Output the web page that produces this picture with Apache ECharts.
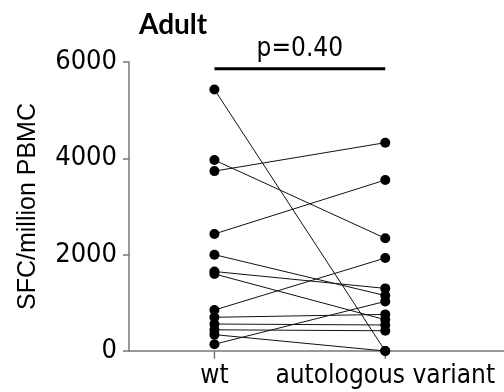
<!DOCTYPE html>
<html><head><meta charset="utf-8">
<script src="https://cdn.jsdelivr.net/npm/echarts@6/dist/echarts.min.js"></script>
<style>html,body{margin:0;padding:0;background:#fff}#c{width:504px;height:392px}</style>
</head><body><div id="c"></div>
<script>
var categories = ['wt', 'autologous variant'];
var wt      = [5430, 3965, 3735, 2430, 2000, 1650, 1600, 850, 700, 560, 440, 340, 140];
var variant = [0,    2340, 4325, 3550, 1150, 1300,  650, 1930, 760, 540, 420,   0, 1030];
var yTicks = [0, 2000, 4000, 6000];
var titleText = 'Adult';
var pText = 'p=0.40';
var pLevel = 5860;
var tickDepth = -160;

var tickFont = "'DejaVu Sans Condensed', 'DejaVu Sans', sans-serif";
var series = [];
for (var i = 0; i < wt.length; i++) {
  series.push({
    type: 'line', data: [[0, wt[i]], [1, variant[i]]],
    symbol: 'none', lineStyle: {color: '#111', width: 1}, silent: true, z: 2
  });
}
var pts = [];
for (var i = 0; i < wt.length; i++) { pts.push([0, wt[i]]); pts.push([1, variant[i]]); }
series.push({type: 'scatter', data: pts, symbolSize: 10, itemStyle: {color: '#000', opacity: 1}, z: 5, silent: true});
series.push({
  type: 'line', data: [[0, pLevel], [1, pLevel]], symbol: 'none',
  lineStyle: {color: '#000', width: 3}, z: 3, silent: true
});
series.push({
  type: 'scatter', data: [[0.5, pLevel]], symbolSize: 2, silent: true, z: 6,
  itemStyle: {color: 'rgba(0,0,0,0)', opacity: 1},
  label: {show: true, formatter: pText, position: 'top', distance: 5, color: '#000', fontSize: 26, fontFamily: tickFont}
});
// category tick marks below the x axis
categories.forEach(function (c, i) {
  series.push({
    type: 'line', data: [[i, 0], [i, tickDepth]], symbol: 'none', clip: false,
    lineStyle: {color: '#777', width: 1.5}, z: 1, silent: true
  });
});

var chart = echarts.init(document.getElementById('c'), null, {renderer: 'canvas'});
chart.setOption({
  animation: false,
  title: {text: titleText, left: 134, top: 6, textStyle: {fontFamily: 'Lato, sans-serif', fontWeight: 'bold', fontSize: 28, color: '#000'}},
  grid: {left: 129, right: 0, top: 62, bottom: 41},
  xAxis: {
    type: 'value', min: -0.5, max: 1.695, interval: 0.5,
    splitLine: {show: false},
    axisLine: {show: true, onZero: false, lineStyle: {color: '#777', width: 1.5}},
    axisTick: {show: false},
    axisLabel: {customValues: [0, 1], margin: 12, color: '#000', fontSize: 26, fontFamily: tickFont,
      formatter: function (v) { return v === 0 ? categories[0] : (v === 1 ? categories[1] : ''); }}
  },
  yAxis: {
    type: 'value', min: 0, max: 6000, interval: 2000,
    name: 'SFC/million PBMC', nameLocation: 'middle', nameGap: 88,
    nameTextStyle: {fontFamily: "'Liberation Sans', Arial, sans-serif", fontSize: 25, color: '#000'},
    splitLine: {show: false},
    axisLine: {show: true, onZero: false, lineStyle: {color: '#777', width: 1.5}},
    axisTick: {show: true, length: 6, lineStyle: {color: '#777', width: 1.5}},
    axisLabel: {margin: 12, color: '#000', fontSize: 27, fontFamily: tickFont,
      formatter: function (v) { return yTicks.indexOf(v) >= 0 ? String(v) : ''; }}
  },
  series: series
});
</script></body></html>
